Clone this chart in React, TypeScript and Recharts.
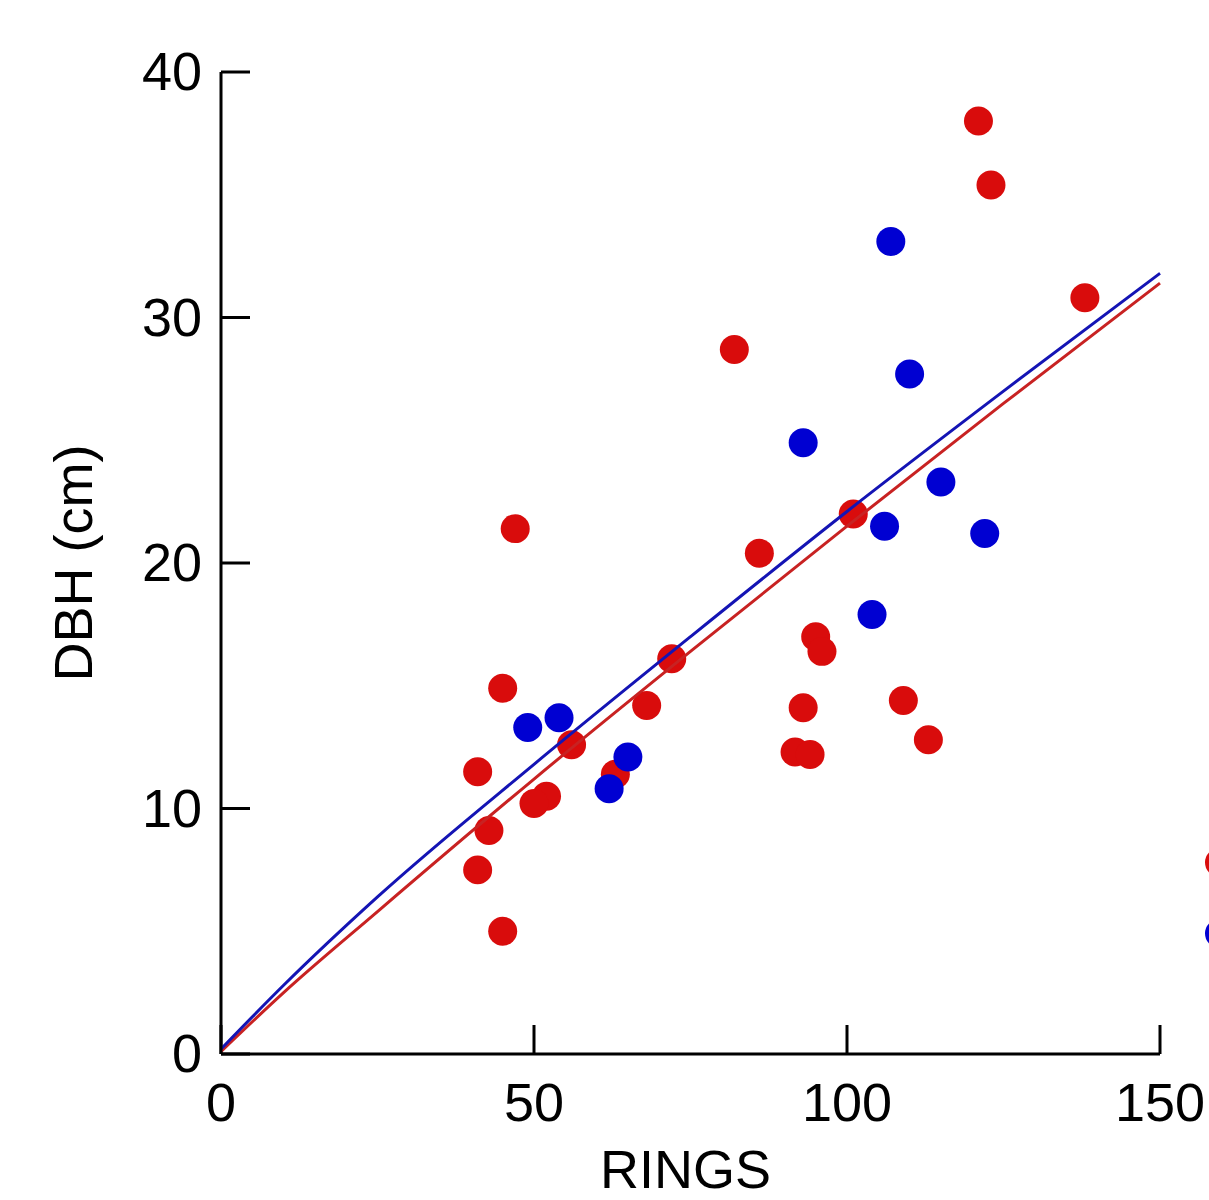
import {
  ComposedChart,
  Scatter,
  Line,
  XAxis,
  YAxis,
  ZAxis,
  Legend,
} from 'recharts'

// tree ring counts vs trunk diameter, two groups
const redRings = [121, 123, 138, 82, 47, 101, 86, 72, 95, 96, 45, 68, 93, 109, 56, 113, 91.7, 94.1, 41, 63, 52, 50, 42.8, 41, 45]
const redDbh = [38.0, 35.4, 30.8, 28.7, 21.4, 22.0, 20.4, 16.1, 17.0, 16.4, 14.9, 14.2, 14.1, 14.4, 12.6, 12.8, 12.3, 12.2, 11.5, 11.4, 10.5, 10.2, 9.1, 7.5, 5.0]

const blueRings = [107, 110, 93, 115, 106, 122, 104, 49, 54, 65, 62]
const blueDbh = [33.1, 27.7, 24.9, 23.3, 21.5, 21.2, 17.9, 13.3, 13.7, 12.1, 10.8]

// fitted curves
const fitRings = [0, 10, 25, 50, 75, 100, 125, 150]
const redFit = [0.1, 2.5, 5.8, 11.2, 16.4, 21.5, 26.5, 31.4]
const blueFit = [0.2, 2.8, 6.4, 11.8, 17.0, 22.1, 27.0, 31.8]

const xTicks = [0, 50, 100, 150]
const yTicks = [0, 10, 20, 30, 40]

const RED = '#d90c0c'
const BLUE = '#0000d2'
const RED_LINE = '#c82222'
const BLUE_LINE = '#1414b4'
const FONT = '"Liberation Sans", Arial, sans-serif'

const legendOrder = [RED, BLUE]

const redPts = redRings.map((x, i) => ({ x, y: redDbh[i] }))
const bluePts = blueRings.map((x, i) => ({ x, y: blueDbh[i] }))
const redCurve = fitRings.map((x, i) => ({ x, y: redFit[i] }))
const blueCurve = fitRings.map((x, i) => ({ x, y: blueFit[i] }))

const XTick = (props: any) => {
  const { x, y, payload } = props
  return (
    <g>
      <line x1={x} y1={y} x2={x} y2={y - 29} stroke="#000" strokeWidth={3} />
      <text x={x} y={y + 67} textAnchor="middle" fontSize={54} fontFamily={FONT} fill="#000">
        {payload.value}
      </text>
    </g>
  )
}

const YTick = (props: any) => {
  const { x, y, payload } = props
  return (
    <g>
      <line x1={x} y1={y} x2={x + 29} y2={y} stroke="#000" strokeWidth={3} />
      <text x={x - 19} y={y + 18} textAnchor="end" fontSize={54} fontFamily={FONT} fill="#000">
        {payload.value}
      </text>
    </g>
  )
}

// only the markers of the legend show at the page edge
const LegendMarks = (props: any) => {
  const items = (props.payload || [])
    .filter((p: any) => legendOrder.includes(p.color))
    .sort((a: any, b: any) => legendOrder.indexOf(a.color) - legendOrder.indexOf(b.color))
  return (
    <svg width={30} height={100}>
      {items.map((p: any, i: number) => (
        <circle key={i} cx={14.5} cy={14.5 + i * 71} r={14.5} fill={p.color} />
      ))}
    </svg>
  )
}

export default function App() {
  return (
    <div
      style={{
        position: 'absolute',
        left: 0,
        top: 0,
        width: 1209,
        height: 1200,
        overflow: 'hidden',
        background: '#fff',
      }}
    >
      <ComposedChart
        width={1209}
        height={1200}
        margin={{ top: 72, right: 49, bottom: 0, left: 0 }}
      >
        <XAxis
          type="number"
          dataKey="x"
          domain={[0, 150]}
          ticks={xTicks}
          interval={0}
          height={146}
          tickSize={0}
          tickMargin={0}
          tickLine={false}
          tick={XTick}
          axisLine={{ stroke: '#000', strokeWidth: 3 }}
          label={{
            value: 'RINGS',
            position: 'insideBottom',
            offset: 12,
            dx: -5,
            fontSize: 54,
            fontFamily: FONT,
            fill: '#000',
          }}
        />
        <YAxis
          type="number"
          dataKey="y"
          domain={[0, 40]}
          ticks={yTicks}
          interval={0}
          width={221}
          tickSize={0}
          tickMargin={0}
          tickLine={false}
          tick={YTick}
          axisLine={{ stroke: '#000', strokeWidth: 3 }}
          label={{
            value: 'DBH (cm)',
            angle: -90,
            position: 'center',
            dx: -38,
            fontSize: 54,
            fontFamily: FONT,
            fill: '#000',
          }}
        />
        <ZAxis type="number" range={[660, 660]} />
        <Legend
          layout="vertical"
          align="center"
          verticalAlign="middle"
          content={LegendMarks}
          wrapperStyle={{ left: 1205, top: 848, width: 30 }}
        />
        <Scatter name="red" data={redPts} fill={RED} isAnimationActive={false} />
        <Scatter name="blue" data={bluePts} fill={BLUE} isAnimationActive={false} />
        <Line
          data={redCurve}
          dataKey="y"
          type="monotone"
          stroke={RED_LINE}
          strokeWidth={3}
          dot={false}
          activeDot={false}
          legendType="none"
          isAnimationActive={false}
          zIndex={700}
        />
        <Line
          data={blueCurve}
          dataKey="y"
          type="monotone"
          stroke={BLUE_LINE}
          strokeWidth={3}
          dot={false}
          activeDot={false}
          legendType="none"
          isAnimationActive={false}
          zIndex={700}
        />
      </ComposedChart>
    </div>
  )
}
